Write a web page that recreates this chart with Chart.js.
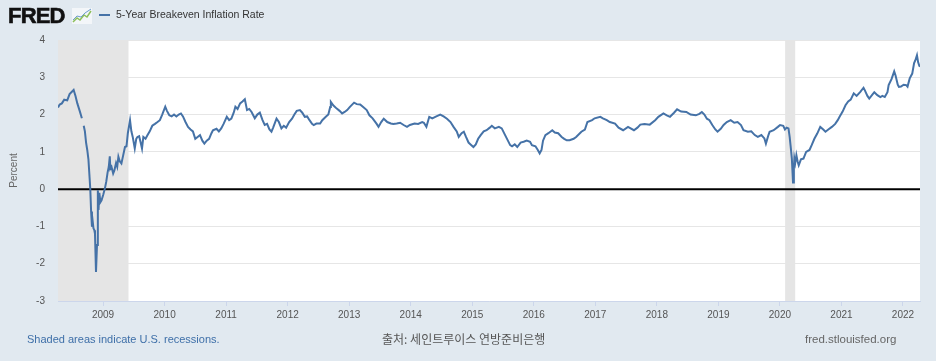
<!DOCTYPE html>
<html>
<head>
<meta charset="utf-8">
<script src="https://cdn.jsdelivr.net/npm/chart.js@4/dist/chart.umd.min.js"></script>
<style>
  body { margin: 0; background: #e1e9f0; font-family: "Liberation Sans", Arial, sans-serif; }
  #wrap { position: relative; width: 936px; height: 361px; overflow: hidden; }
  #chart { position: absolute; left: 0; top: 0; }
  .logo { position: absolute; left: 8px; top: 3px; font-size: 22px; font-weight: 900; color: #111; letter-spacing: -0.8px; -webkit-text-stroke: 0.6px #111; }
  .icon { position: absolute; left: 72px; top: 8px; }
  .legend-line { position: absolute; left: 99px; top: 14px; width: 11px; height: 2px; background: #4572a7; }
  .legend-text { position: absolute; left: 116px; top: 8px; font-size: 10.5px; color: #333; }
  .foot { position: absolute; top: 333px; font-size: 11px; }
</style>
</head>
<body>
<div id="wrap">
  <canvas id="chart" width="936" height="361"></canvas>
  <div class="logo">FRED</div>
  <svg class="icon" width="20" height="16" viewBox="0 0 20 16">
    <rect x="0" y="0" width="20" height="16" fill="#f3f6f9"/>
    <polyline points="1,14 5,10 8,12 12,7 15,9 19,3" fill="none" stroke="#8cbf5a" stroke-width="1.5"/>
    <polyline points="1,12 5,8 9,9 13,5 19,1" fill="none" stroke="#6e9ccc" stroke-width="1"/>
  </svg>
  <div class="legend-line"></div>
  <div class="legend-text">5-Year Breakeven Inflation Rate</div>
  <div class="foot" style="left:27px;color:#3e6fa8;">Shaded areas indicate U.S. recessions.</div>
  <div class="foot" style="left:382px;color:#555;font-family:'Noto Sans CJK KR',sans-serif;font-size:12px;top:330px;">출처: 세인트루이스 연방준비은행</div>
  <div class="foot" style="left:805px;color:#666;font-size:11.5px;">fred.stlouisfed.org</div>
</div>
<script>
// dates and 5-year breakeven values (percent)
const dates = [
  '2008-04-08','2008-04-18','2008-05-01','2008-05-15','2008-06-02','2008-06-16','2008-07-01','2008-07-10','2008-07-21','2008-08-01','2008-08-15','2008-08-28',
  '2008-09-03','2008-09-08','2008-09-15','2008-09-22','2008-09-29','2008-10-06','2008-10-13','2008-10-17','2008-10-22','2008-10-27','2008-10-31',
  '2008-11-05','2008-11-10','2008-11-14','2008-11-20','2008-11-26','2008-12-01','2008-12-05','2008-12-10','2008-12-16','2008-12-23',
  '2009-01-02','2009-01-12','2009-01-20','2009-01-28','2009-02-04','2009-02-10','2009-02-13','2009-02-20','2009-03-02','2009-03-09','2009-03-19','2009-03-26',
  '2009-04-02','2009-04-10','2009-04-20','2009-04-30','2009-05-11','2009-05-20','2009-05-28','2009-06-10','2009-06-18','2009-06-26','2009-07-08','2009-07-17',
  '2009-07-24','2009-08-03','2009-08-12','2009-08-20','2009-08-28','2009-09-10','2009-09-22','2009-10-05','2009-10-20','2009-11-05','2009-11-20','2009-12-04','2009-12-18',
  '2010-01-05','2010-01-15','2010-01-29','2010-02-12','2010-02-26','2010-03-12','2010-03-26','2010-04-08','2010-04-20','2010-05-05','2010-05-20','2010-06-04',
  '2010-06-18','2010-07-02','2010-07-16','2010-07-30','2010-08-13','2010-08-25','2010-09-08','2010-09-22','2010-10-06','2010-10-15','2010-11-05','2010-11-19','2010-12-03','2010-12-17',
  '2011-01-05','2011-01-19','2011-02-01','2011-02-15','2011-02-25','2011-03-10','2011-03-25','2011-04-08','2011-04-22','2011-05-05','2011-05-18','2011-06-01','2011-06-20',
  '2011-07-05','2011-07-20','2011-08-05','2011-08-18','2011-09-01','2011-09-15','2011-09-27','2011-10-07','2011-10-27','2011-11-10','2011-11-25','2011-12-09','2011-12-23',
  '2012-01-10','2012-01-27','2012-02-10','2012-02-24','2012-03-14','2012-03-28','2012-04-12','2012-04-26','2012-05-10','2012-05-25','2012-06-04','2012-06-20',
  '2012-07-12','2012-07-25','2012-08-15','2012-08-30','2012-09-10','2012-09-14','2012-09-28','2012-10-19','2012-11-05','2012-11-20','2012-12-05','2012-12-20',
  '2013-01-04','2013-01-30','2013-02-15','2013-03-07','2013-03-25','2013-04-15','2013-05-01','2013-05-20','2013-06-13','2013-06-24','2013-07-10','2013-07-25',
  '2013-08-15','2013-09-05','2013-09-20','2013-10-10','2013-10-30','2013-11-20','2013-12-10','2013-12-27',
  '2014-01-24','2014-02-14','2014-03-10','2014-03-20','2014-04-04','2014-04-21','2014-05-09','2014-06-02','2014-06-25','2014-07-15','2014-08-04','2014-08-25',
  '2014-09-12','2014-10-01','2014-10-13','2014-10-30','2014-11-12','2014-11-25','2014-12-10','2014-12-22',
  '2015-01-08','2015-01-22','2015-02-05','2015-02-20','2015-03-10','2015-03-27','2015-04-15','2015-04-27','2015-05-15','2015-06-08','2015-06-25','2015-07-15',
  '2015-08-14','2015-08-25','2015-09-10','2015-09-25','2015-10-15','2015-11-02','2015-11-20','2015-12-10','2015-12-21',
  '2016-01-11','2016-01-25','2016-02-05','2016-02-16','2016-02-25','2016-03-10','2016-03-28','2016-04-20','2016-05-05','2016-05-25','2016-06-15','2016-06-30',
  '2016-07-15','2016-08-01','2016-08-25','2016-09-09','2016-10-10','2016-10-31','2016-11-15','2016-12-13','2016-12-28',
  '2017-01-31','2017-02-15','2017-03-10','2017-03-28','2017-04-28','2017-05-19','2017-06-15','2017-07-14','2017-08-18','2017-09-08','2017-09-25','2017-10-20',
  '2017-11-20','2017-12-22',
  '2018-01-10','2018-02-09','2018-03-01','2018-03-20','2018-04-13','2018-05-01','2018-05-25','2018-06-25','2018-07-20','2018-08-20','2018-09-10','2018-09-25',
  '2018-10-10','2018-10-25','2018-11-09','2018-11-26','2018-12-14','2018-12-27',
  '2019-01-15','2019-02-01','2019-02-20','2019-03-15','2019-04-05','2019-04-25','2019-05-15','2019-05-30','2019-06-25','2019-07-15','2019-08-05','2019-08-23',
  '2019-09-13','2019-10-01','2019-10-10','2019-10-25','2019-11-01','2019-11-25','2019-12-20',
  '2020-01-02','2020-01-21','2020-01-31','2020-02-10','2020-02-21','2020-02-28','2020-03-06','2020-03-12','2020-03-19','2020-03-24','2020-03-27','2020-04-01',
  '2020-04-08','2020-04-15','2020-04-22','2020-05-05','2020-05-20','2020-06-05','2020-06-25','2020-07-08','2020-07-24','2020-08-10','2020-08-28','2020-09-15',
  '2020-09-28','2020-10-15','2020-11-05','2020-11-25','2020-12-10','2020-12-21',
  '2021-01-08','2021-01-25','2021-02-10','2021-02-25','2021-03-15','2021-04-01','2021-04-23','2021-05-12','2021-05-20','2021-06-04','2021-06-15','2021-07-01',
  '2021-07-15','2021-08-02','2021-08-20','2021-09-01','2021-09-15','2021-10-01','2021-10-08','2021-10-25','2021-11-10','2021-11-18','2021-12-01','2021-12-08','2021-12-20',
  '2022-01-05','2022-01-20','2022-01-28','2022-02-10','2022-02-25','2022-03-08','2022-03-15','2022-03-25','2022-04-01','2022-04-08','2022-04-12'
];
const rates = [
  2.19,2.27,2.30,2.40,2.38,2.55,2.62,2.66,2.50,2.30,2.10,1.90,
  null,1.70,1.55,1.25,1.05,0.80,0.30,0.00,-0.60,-1.01,-0.85,
  -1.05,-1.10,-1.20,-2.22,-1.50,-0.03,-0.56,-0.10,-0.35,-0.30,
  -0.15,0.02,0.20,0.45,0.60,0.88,0.55,0.60,0.42,0.50,0.70,0.60,
  0.87,0.75,0.69,0.90,1.13,1.15,1.50,1.85,1.55,1.40,1.09,1.35,
  1.40,1.42,1.25,1.09,1.40,1.35,1.45,1.55,1.70,1.75,1.80,1.85,2.00,
  2.21,2.10,1.98,1.95,2.00,1.95,2.00,2.03,1.95,1.80,1.67,1.60,
  1.55,1.35,1.40,1.45,1.30,1.22,1.30,1.35,1.50,1.58,1.62,1.55,1.63,1.75,
  1.94,1.85,1.89,2.05,2.21,2.15,2.30,2.35,2.41,2.12,2.15,2.07,1.90,
  2.00,2.05,1.85,1.72,1.75,1.60,1.54,1.65,1.89,1.80,1.63,1.70,1.65,
  1.80,1.89,2.00,2.10,2.12,2.05,1.94,1.95,1.85,1.75,1.72,1.76,
  1.76,1.85,1.94,2.00,2.20,2.34,2.25,2.16,2.10,2.03,2.07,2.12,
  2.20,2.32,2.28,2.27,2.20,2.12,1.98,1.90,1.75,1.67,1.80,1.89,
  1.80,1.76,1.75,1.76,1.78,1.72,1.67,1.72,
  1.76,1.75,1.80,1.78,1.67,1.94,1.90,1.95,2.00,1.95,1.89,1.80,
  1.67,1.55,1.40,1.50,1.54,1.40,1.25,1.20,
  1.13,1.20,1.35,1.45,1.55,1.58,1.65,1.70,1.63,1.67,1.63,1.45,
  1.18,1.15,1.20,1.13,1.25,1.27,1.30,1.27,1.18,
  1.15,1.05,0.96,1.05,1.30,1.45,1.50,1.58,1.52,1.50,1.40,1.35,
  1.31,1.31,1.35,1.40,1.54,1.60,1.80,1.85,1.90,
  1.94,1.90,1.85,1.80,1.76,1.65,1.58,1.67,1.58,1.65,1.73,1.75,
  1.73,1.85,
  1.94,2.03,1.98,1.94,2.05,2.14,2.08,2.07,2.00,1.98,2.02,2.07,
  2.00,1.89,1.85,1.72,1.60,1.54,
  1.62,1.72,1.80,1.85,1.78,1.80,1.72,1.58,1.54,1.55,1.45,1.40,
  1.45,1.36,1.22,1.45,1.54,1.58,1.67,
  1.72,1.70,1.60,1.65,1.63,1.40,1.10,0.82,0.18,0.55,0.82,0.70,
  0.91,0.75,0.64,0.80,0.82,1.00,1.05,1.18,1.35,1.49,1.67,1.60,
  1.54,1.60,1.67,1.75,1.85,1.94,
  2.08,2.25,2.35,2.40,2.57,2.50,2.61,2.72,2.65,2.50,2.43,2.52,
  2.60,2.52,2.47,2.50,2.47,2.60,2.79,2.95,3.16,3.05,2.80,2.74,2.75,
  2.80,2.79,2.75,2.97,3.10,3.38,3.45,3.59,3.40,3.31,3.28
];
const yearTicks = [2009,2010,2011,2012,2013,2014,2015,2016,2017,2018,2019,2020,2021,2022];
const recessions = [['2007-12-01','2009-06-01'], ['2020-02-01','2020-04-01']];

function toYear(s) {
  const d = new Date(s + 'T00:00:00Z');
  const y = d.getUTCFullYear();
  const a = Date.UTC(y, 0, 1), b = Date.UTC(y + 1, 0, 1);
  return y + (d.getTime() - a) / (b - a);
}

const points = dates.map((d, i) => ({ x: toYear(d), y: rates[i] }));
const xMin = toYear(dates[0]);
const xMax = toYear(dates[dates.length - 1]);

const plotBg = {
  id: 'plotBg',
  beforeDatasetsDraw(chart) {
    const { ctx, chartArea: a, scales: { x } } = chart;
    ctx.save();
    recessions.forEach(r => {
      const x0 = Math.max(a.left, x.getPixelForValue(toYear(r[0])));
      const x1 = Math.min(a.right, x.getPixelForValue(toYear(r[1])));
      ctx.fillStyle = '#e5e5e5';
      ctx.fillRect(x0, a.top, x1 - x0, a.bottom - a.top);
    });
    ctx.restore();
  },
  beforeDraw(chart) {
    const { ctx, chartArea: a } = chart;
    ctx.save();
    ctx.fillStyle = '#ffffff';
    ctx.fillRect(a.left, a.top, a.right - a.left, a.bottom - a.top);
    ctx.restore();
  }
};

// zero line drawn above the shading
const zeroLine = {
  id: 'zeroLine',
  beforeDatasetsDraw(chart) {
    const { ctx, chartArea: a, scales: { y } } = chart;
    const py = y.getPixelForValue(0);
    ctx.save();
    ctx.strokeStyle = '#000';
    ctx.lineWidth = 2;
    ctx.beginPath();
    ctx.moveTo(a.left, py);
    ctx.lineTo(a.right, py);
    ctx.stroke();
    ctx.restore();
  }
};

new Chart(document.getElementById('chart'), {
  type: 'line',
  data: {
    datasets: [{
      label: '5-Year Breakeven Inflation Rate',
      data: points,
      borderColor: '#4572a7',
      borderWidth: 2,
      pointRadius: 0,
      tension: 0,
      spanGaps: false
    }]
  },
  options: {
    responsive: false,
    animation: false,
    layout: { padding: { left: 0, top: 40, right: 16, bottom: 35 } },
    plugins: { legend: { display: false }, tooltip: { enabled: false } },
    scales: {
      x: {
        type: 'linear',
        min: xMin,
        max: xMax,
        afterBuildTicks(scale) { scale.ticks = yearTicks.map(v => ({ value: v })); },
        afterFit(scale) { scale.height = 25; },
        grid: { drawOnChartArea: false, color: '#ccd6eb', tickLength: 5 },
        border: { color: '#ccd6eb' },
        ticks: {
          padding: 3,
          maxRotation: 0,
          autoSkip: false,
          color: '#555',
          font: { family: 'Liberation Sans', size: 10 },
          callback: v => String(v)
        }
      },
      y: {
        min: -3,
        max: 4,
        afterFit(scale) { scale.width = 58; },
        ticks: { stepSize: 1, padding: 13, color: '#555', font: { family: 'Liberation Sans', size: 10 } },
        grid: { color: '#e6e6e6', drawTicks: false },
        border: { display: false },
        title: { display: true, text: 'Percent', color: '#666', font: { family: 'Liberation Sans', size: 10 }, padding: { top: 8, bottom: 0 } }
      }
    }
  },
  plugins: [plotBg, zeroLine]
});
</script>
</body>
</html>
